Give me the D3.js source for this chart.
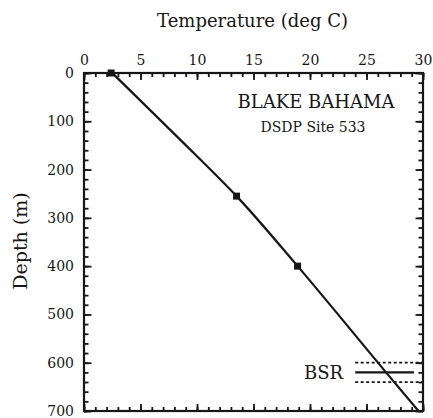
<!DOCTYPE html>
<html>
<head>
<meta charset="utf-8">
<script src="https://cdn.jsdelivr.net/npm/d3@7"></script>
<style>
  body { margin: 0; background: #fff; }
  svg { display: block; }
</style>
</head>
<body>
<svg id="chart"></svg>
<script>
// temperature profile
const profileTemp = [2.5, 8.6, 13.5, 18.9, 26.8, 29.6];
const profileDepth = [0, 140, 255, 400, 622, 700];

// measured points (squares)
const measTemp = [2.4, 13.5, 18.9];
const measDepth = [0, 255, 400];

// BSR depth and its uncertainty band
const bsrDepth = 620;
const bsrBand = [600, 640];
const bsrTemp = [24.0, 29.2];
const bsrBandTemp = [24.0, 30];

const xTicks = [0, 5, 10, 15, 20, 25, 30];
const yTicks = [0, 100, 200, 300, 400, 500, 600, 700];

const width = 433;
const height = 418;
const margin = { top: 73, right: 10, bottom: 7, left: 84 };
const ink = "#161616";
const serif = "'DejaVu Serif', serif";

const svg = d3.select("#chart")
  .attr("width", width)
  .attr("height", height);

const x = d3.scaleLinear()
  .domain([0, 30])
  .range([margin.left, width - margin.right]);

const y = d3.scaleLinear()
  .domain([0, 700])
  .range([margin.top, height - margin.bottom]);

const xMinor = d3.range(0, 31, 1);
const yMinor = d3.range(0, 701, 20);

function styleAxis(g) {
  g.select(".domain").remove();
  g.selectAll("line").attr("stroke", ink).attr("stroke-width", 1.8);
  g.selectAll("text")
    .attr("fill", ink)
    .style("font-family", serif)
    .style("font-size", "14px");
}

// minor ticks on all four sides, pointing inward
svg.append("g")
  .attr("transform", `translate(0,${margin.top})`)
  .call(d3.axisTop(x).tickValues(xMinor).tickSize(-4).tickFormat(""))
  .call(styleAxis);
svg.append("g")
  .attr("transform", `translate(0,${height - margin.bottom})`)
  .call(d3.axisBottom(x).tickValues(xMinor).tickSize(-4).tickFormat(""))
  .call(styleAxis);
svg.append("g")
  .attr("transform", `translate(${margin.left},0)`)
  .call(d3.axisLeft(y).tickValues(yMinor).tickSize(-4.5).tickFormat(""))
  .call(styleAxis);
svg.append("g")
  .attr("transform", `translate(${width - margin.right},0)`)
  .call(d3.axisRight(y).tickValues(yMinor).tickSize(-4.5).tickFormat(""))
  .call(styleAxis);

// major ticks
svg.append("g")
  .attr("transform", `translate(0,${margin.top})`)
  .call(d3.axisTop(x).tickValues(xTicks).tickSize(-7).tickPadding(8))
  .call(styleAxis);
svg.append("g")
  .attr("transform", `translate(0,${height - margin.bottom})`)
  .call(d3.axisBottom(x).tickValues(xTicks).tickSize(-7).tickFormat(""))
  .call(styleAxis);
svg.append("g")
  .attr("transform", `translate(${margin.left},0)`)
  .call(d3.axisLeft(y).tickValues(yTicks).tickSize(-7.5).tickPadding(10))
  .call(styleAxis);
svg.append("g")
  .attr("transform", `translate(${width - margin.right},0)`)
  .call(d3.axisRight(y).tickValues(yTicks).tickSize(-7.5).tickFormat(""))
  .call(styleAxis);

// frame
svg.append("rect")
  .attr("x", x(0))
  .attr("y", y(0))
  .attr("width", x(30) - x(0))
  .attr("height", y(700) - y(0))
  .attr("fill", "none")
  .attr("stroke", ink)
  .attr("stroke-width", 2.2);

// axis titles
svg.append("text")
  .attr("x", x(15) - 1)
  .attr("y", 27)
  .attr("text-anchor", "middle")
  .attr("fill", ink)
  .style("font-family", serif)
  .style("font-size", "18px")
  .text("Temperature (deg C)");

svg.append("text")
  .attr("transform", `translate(27,${y(350) - 1}) rotate(-90)`)
  .attr("text-anchor", "middle")
  .attr("fill", ink)
  .style("font-family", serif)
  .style("font-size", "19px")
  .text("Depth (m)");

// site labels
svg.append("text")
  .attr("x", 316)
  .attr("y", 108)
  .attr("text-anchor", "middle")
  .attr("fill", ink)
  .style("font-family", serif)
  .style("font-size", "18px")
  .text("BLAKE BAHAMA");

svg.append("text")
  .attr("x", 313)
  .attr("y", 132)
  .attr("text-anchor", "middle")
  .attr("fill", ink)
  .style("font-family", serif)
  .style("font-size", "14px")
  .text("DSDP Site 533");

// BSR
svg.append("text")
  .attr("x", x(bsrTemp[0]) - 12)
  .attr("y", y(bsrDepth) + 7)
  .attr("text-anchor", "end")
  .attr("fill", ink)
  .style("font-family", serif)
  .style("font-size", "18px")
  .text("BSR");

svg.append("line")
  .attr("x1", x(bsrTemp[0]))
  .attr("x2", x(bsrTemp[1]))
  .attr("y1", y(bsrDepth))
  .attr("y2", y(bsrDepth))
  .attr("stroke", ink)
  .attr("stroke-width", 2.2);

svg.append("g")
  .selectAll("line")
  .data(bsrBand)
  .join("line")
  .attr("x1", x(bsrBandTemp[0]))
  .attr("x2", x(bsrBandTemp[1]))
  .attr("y1", d => y(d))
  .attr("y2", d => y(d))
  .attr("stroke", ink)
  .attr("stroke-width", 1.8)
  .attr("stroke-dasharray", "3,2.5");

// temperature profile
const profile = profileTemp.map((t, i) => [t, profileDepth[i]]);
svg.append("path")
  .datum(profile)
  .attr("fill", "none")
  .attr("stroke", ink)
  .attr("stroke-width", 2.2)
  .attr("d", d3.line()
    .x(d => x(d[0]))
    .y(d => y(d[1]))
    .curve(d3.curveMonotoneY));

// measurement squares
svg.append("g")
  .selectAll("rect")
  .data(measTemp.map((t, i) => [t, measDepth[i]]))
  .join("rect")
  .attr("x", d => x(d[0]) - 3.5)
  .attr("y", d => y(d[1]) - 3.5)
  .attr("width", 7)
  .attr("height", 7)
  .attr("fill", ink);
</script>
</body>
</html>
